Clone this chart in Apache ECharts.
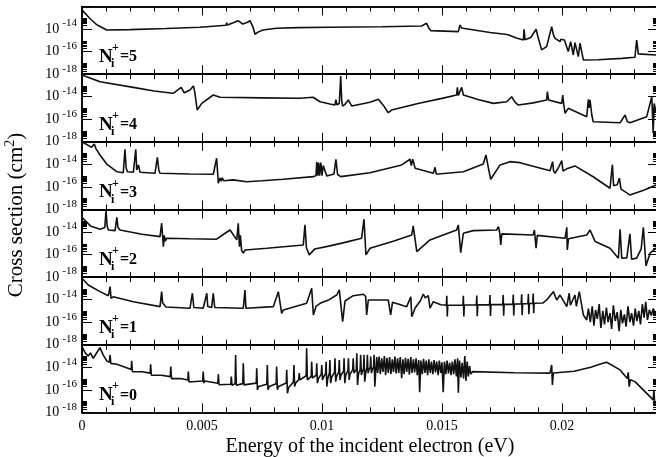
<!DOCTYPE html>
<html>
<head>
<meta charset="utf-8">
<script src="https://cdn.jsdelivr.net/npm/echarts@6/dist/echarts.min.js"></script>
<style>
html, body { margin: 0; padding: 0; background: #fff; }
#main { width: 656px; height: 457px; }
</style>
</head>
<body>
<div id="main"></div>
<script>
// [energy (eV), log10 of cross section (cm^2)] for each N_i^+ panel
var n5 = [[0, -12.3], [0.0003, -13.0], [0.0006, -13.6], [0.00103, -14.08], [0.002, -14.05], [0.0035, -13.95],
    [0.00492, -13.84], [0.006, -13.66], [0.00603, -13.43], [0.00606, -13.65], [0.0063, -13.45], [0.0065, -13.26],
    [0.0067, -13.55], [0.0069, -13.4], [0.007, -13.26], [0.00712, -13.8], [0.00721, -14.46], [0.00735, -14.25],
    [0.00754, -14.08], [0.0081, -13.93], [0.009, -13.87], [0.01033, -13.84], [0.0125, -13.8], [0.01415, -13.73],
    [0.01436, -13.49], [0.01445, -13.9], [0.01453, -14.14], [0.01568, -14.23], [0.01575, -13.64], [0.01581, -13.9],
    [0.017, -14.3], [0.01763, -14.46], [0.0177, -14.3], [0.01775, -14.5], [0.0181, -14.8], [0.01839, -14.97],
    [0.01842, -14.02], [0.01846, -14.95], [0.0187, -14.75], [0.01892, -14.02], [0.019, -14.7], [0.01915, -15.85],
    [0.01936, -15.56], [0.01957, -13.79], [0.01964, -14.5], [0.01971, -14.82], [0.01992, -15.12], [0.01995, -14.9],
    [0.0201, -14.97], [0.02026, -16.0], [0.02036, -15.12], [0.02047, -16.3], [0.02054, -15.2], [0.02068, -16.45],
    [0.02075, -15.26], [0.02089, -16.74], [0.0215, -16.72], [0.0225, -16.6], [0.02304, -16.5], [0.02311, -14.97],
    [0.02318, -16.2], [0.02325, -16.3], [0.02392, -16.3], [0.024, -16.3]];

var n4 = [[0, -12.08], [0.00075, -12.67], [0.00214, -13.17], [0.003, -13.5], [0.0038, -13.7], [0.00413, -13.17],
    [0.00426, -13.65], [0.0045, -13.4], [0.00464, -13.05], [0.0047, -13.6], [0.0048, -15.18], [0.00499, -14.59],
    [0.00547, -13.85], [0.00575, -14.05], [0.0075, -14.1], [0.00908, -14.14], [0.00963, -14.05], [0.00992, -14.45],
    [0.01033, -14.65], [0.01054, -14.74], [0.01058, -14.25], [0.01062, -14.72], [0.01072, -14.6], [0.01078, -12.17],
    [0.01082, -14.3], [0.01086, -14.83], [0.01095, -14.7], [0.0111, -14.29], [0.01124, -14.83], [0.012, -14.5],
    [0.01235, -14.23], [0.0126, -14.9], [0.01276, -15.42], [0.0129, -15.18], [0.014, -14.6], [0.015, -14.15],
    [0.01561, -13.85], [0.01564, -13.17], [0.01568, -13.9], [0.01575, -13.8], [0.01582, -13.17], [0.01589, -13.85],
    [0.0165, -14.25], [0.01714, -14.59], [0.0177, -14.45], [0.0179, -14.0], [0.01805, -14.5], [0.01818, -14.74],
    [0.0188, -14.55], [0.01936, -14.29], [0.01939, -13.56], [0.01944, -14.29], [0.01999, -14.59], [0.02003, -13.85],
    [0.02008, -14.8], [0.02013, -15.47], [0.02026, -15.03], [0.02103, -15.77], [0.0211, -14.23], [0.02113, -15.0],
    [0.02117, -14.29], [0.02124, -15.6], [0.0213, -16.22], [0.02242, -16.31], [0.02263, -15.62], [0.02272, -16.2],
    [0.02283, -16.31], [0.02353, -15.77], [0.02374, -14.0], [0.02377, -15.5], [0.0238, -17.25], [0.02384, -14.6],
    [0.02392, -15.36], [0.024, -15.3]];

var n3 = [[0, -12.0], [0.0004, -12.49], [0.00051, -12.19], [0.00058, -12.6], [0.00075, -13.17], [0.00103, -13.97],
    [0.00145, -14.65], [0.00172, -14.74], [0.00179, -12.66], [0.00184, -14.3], [0.00189, -14.65], [0.00214, -14.7],
    [0.00224, -12.66], [0.00228, -14.5], [0.0023, -14.6], [0.00235, -14.05], [0.00242, -14.7], [0.00304, -14.79],
    [0.00314, -13.37], [0.0032, -14.5], [0.00325, -14.79], [0.0045, -14.85], [0.00547, -14.88], [0.00561, -13.46],
    [0.00568, -15.68], [0.00575, -15.2], [0.0058, -15.5], [0.00585, -15.2], [0.0059, -15.45], [0.0063, -15.38],
    [0.00686, -15.54], [0.0075, -15.45], [0.00839, -15.32], [0.00964, -15.09], [0.00975, -15.0], [0.00978, -13.8],
    [0.00982, -15.0], [0.00986, -13.85], [0.0099, -15.0], [0.00995, -13.85], [0.01, -15.0], [0.01005, -14.1],
    [0.0102, -15.03], [0.0105, -14.85], [0.01058, -13.55], [0.01065, -14.9], [0.01078, -15.09], [0.012, -14.74],
    [0.01332, -14.05], [0.01367, -13.55], [0.01372, -14.1], [0.01378, -13.55], [0.01388, -14.35], [0.01464, -14.79],
    [0.01471, -14.26], [0.01476, -14.85], [0.01485, -14.85], [0.01589, -14.65], [0.01672, -13.97], [0.01683, -13.17],
    [0.01695, -14.5], [0.01703, -15.32], [0.01742, -14.05], [0.01783, -13.76], [0.01825, -13.85], [0.0195, -14.56],
    [0.01961, -13.76], [0.01965, -14.6], [0.01971, -14.79], [0.01985, -14.3], [0.01999, -13.67], [0.02004, -14.59],
    [0.0202, -14.4], [0.02054, -14.14], [0.0213, -15.1], [0.022, -16.12], [0.0221, -14.05], [0.02215, -15.9],
    [0.0223, -15.8], [0.02239, -15.23], [0.02246, -16.2], [0.02283, -16.71], [0.0234, -16.3], [0.02392, -15.83],
    [0.024, -15.78]];

var n2 = [[0, -12.69], [0.00035, -13.46], [0.00075, -13.75], [0.00095, -13.6], [0.001, -12.1], [0.00105, -13.5],
    [0.0011, -13.82], [0.00138, -13.88], [0.00145, -12.69], [0.0015, -13.6], [0.00158, -13.82], [0.0025, -14.2],
    [0.00325, -14.41], [0.00332, -13.22], [0.00339, -15.3], [0.00343, -14.3], [0.00347, -14.8], [0.00353, -14.55],
    [0.0045, -14.6], [0.00561, -14.64], [0.0059, -14.2], [0.00617, -13.82], [0.00645, -14.7], [0.00651, -13.22],
    [0.00656, -15.3], [0.0066, -14.3], [0.00665, -15.6], [0.00672, -15.88], [0.0068, -15.6], [0.0077, -15.44],
    [0.00922, -15.15], [0.00929, -13.37], [0.00935, -15.4], [0.00947, -16.03], [0.0097, -15.5], [0.01033, -15.23],
    [0.011, -14.9], [0.01165, -14.55], [0.01175, -12.87], [0.01183, -16.03], [0.012, -15.44], [0.013, -14.8],
    [0.01374, -14.26], [0.0138, -13.46], [0.01395, -15.74], [0.0145, -14.7], [0.01505, -14.26], [0.01561, -13.82],
    [0.01568, -13.37], [0.01578, -15.83], [0.01589, -14.11], [0.0163, -13.88], [0.01728, -13.82], [0.01735, -13.52],
    [0.0174, -14.0], [0.01745, -15.15], [0.01749, -14.17], [0.0188, -14.26], [0.01885, -13.82], [0.01892, -15.44],
    [0.01897, -14.3], [0.02013, -14.55], [0.0202, -13.58], [0.02022, -15.59], [0.02027, -14.6], [0.02103, -14.26],
    [0.02117, -13.82], [0.02138, -14.85], [0.022, -15.44], [0.02235, -16.32], [0.02242, -13.75], [0.02249, -16.32],
    [0.0227, -16.3], [0.02283, -14.17], [0.0229, -16.41], [0.02311, -16.32], [0.0233, -15.5], [0.02339, -13.58],
    [0.0235, -17.0], [0.02367, -15.88], [0.02392, -15.44], [0.024, -15.4]];

var n1 = [[0, -12.1], [0.00026, -12.7], [0.00075, -13.29], [0.0011, -13.65], [0.00117, -12.85], [0.00121, -13.88],
    [0.0013, -13.75], [0.00214, -14.18], [0.00325, -14.62], [0.00332, -13.29], [0.00336, -14.3], [0.00339, -14.47],
    [0.0035, -14.65], [0.0045, -14.76], [0.0046, -13.43], [0.00466, -14.7], [0.00505, -14.76], [0.0052, -13.43],
    [0.00524, -14.6], [0.00526, -14.76], [0.0054, -14.7], [0.00547, -13.43], [0.00553, -14.7], [0.00561, -14.76],
    [0.00672, -14.76], [0.00679, -13.14], [0.00683, -14.76], [0.00797, -14.62], [0.00818, -13.29], [0.00832, -15.21],
    [0.00839, -14.91], [0.00936, -14.32], [0.00957, -12.99], [0.00964, -15.36], [0.00975, -14.6], [0.00992, -14.32],
    [0.0103, -14.0], [0.01061, -13.59], [0.01072, -13.14], [0.01086, -15.95], [0.01096, -14.12], [0.0113, -13.65],
    [0.01172, -13.52], [0.01182, -13.7], [0.01186, -15.36], [0.01193, -14.03], [0.01276, -14.03], [0.01286, -15.36],
    [0.01294, -14.23], [0.01353, -14.62], [0.0137, -13.74], [0.01374, -15.51], [0.01388, -14.74], [0.0141, -14.1],
    [0.01422, -13.5], [0.0143, -13.85], [0.01443, -13.65], [0.0145, -14.76], [0.01464, -14.18], [0.01495, -14.45],
    [0.01518, -14.5], [0.0152, -13.65], [0.01522, -15.5], [0.01524, -14.5],
    [0.01587, -14.48], [0.01589, -13.65], [0.01591, -15.5], [0.01593, -14.48],
    [0.01643, -14.46], [0.01645, -13.63], [0.01647, -15.48], [0.01649, -14.46],
    [0.01698, -14.44], [0.017, -13.6], [0.01702, -15.45], [0.01704, -14.44],
    [0.01753, -14.42], [0.01755, -13.58], [0.01757, -15.42], [0.01759, -14.42],
    [0.01795, -14.4], [0.01797, -13.55], [0.01799, -15.4], [0.01801, -14.4],
    [0.0183, -14.37], [0.01832, -13.52], [0.01834, -15.37], [0.01836, -14.37],
    [0.01858, -14.34], [0.0186, -13.5], [0.01862, -15.3], [0.01864, -14.34],
    [0.01878, -14.32], [0.0188, -13.45], [0.01882, -15.2], [0.01884, -14.32],
    [0.0192, -14.3], [0.01936, -14.03], [0.01964, -13.29], [0.01978, -14.03], [0.01992, -13.59], [0.0202, -14.62],
    [0.0203, -13.43], [0.02035, -14.5], [0.02054, -13.59], [0.0206, -14.6], [0.02072, -13.29], [0.02089, -15.36],
    [0.02103, -15.8], [0.0211, -14.8], [0.02118, -16.0], [0.02126, -14.6], [0.02133, -16.3], [0.0214, -14.9],
    [0.02147, -15.7], [0.02155, -14.4], [0.02162, -16.5], [0.0217, -15.0], [0.02177, -16.2], [0.02185, -14.7],
    [0.02192, -16.0], [0.022, -15.2], [0.02207, -16.6], [0.02214, -14.5], [0.02222, -15.9], [0.0223, -15.1],
    [0.02238, -16.8], [0.02245, -14.9], [0.02252, -16.1], [0.0226, -15.3], [0.02267, -16.4], [0.02275, -14.6],
    [0.02283, -16.0], [0.0229, -15.2], [0.02298, -16.3], [0.02305, -14.8], [0.02312, -15.9], [0.0232, -15.0],
    [0.02327, -16.2], [0.02335, -14.4], [0.02342, -15.6], [0.02349, -14.2], [0.02356, -15.8], [0.02364, -14.9],
    [0.02372, -15.4], [0.0238, -14.8], [0.0239, -15.3], [0.024, -15.0]];

var n0 = [[0, -12.17], [0.00014, -12.75], [0.00026, -12.99], [0.00035, -12.73], [0.00047, -13.2], [0.0006, -12.75],
    [0.00075, -12.26], [0.00088, -12.9], [0.00103, -13.43], [0.00114, -13.55], [0.00117, -12.9], [0.0012, -13.65],
    [0.00145, -13.73], [0.0018, -14.0], [0.00205, -14.2], [0.00207, -13.43], [0.0021, -14.4], [0.00213, -14.25],
    [0.0025, -14.4], [0.00284, -14.52], [0.00286, -13.73], [0.00289, -14.7], [0.00292, -14.55],
    [0.0033, -14.7], [0.00368, -14.83], [0.0037, -13.94], [0.00373, -15.0], [0.00376, -14.85],
    [0.0041, -15.0], [0.00441, -15.12], [0.00443, -14.38], [0.00446, -15.3], [0.00449, -15.13],
    [0.00503, -15.21], [0.00505, -14.38], [0.00508, -15.4], [0.00511, -15.22],
    [0.00566, -15.41], [0.00568, -14.61], [0.00571, -15.55], [0.00574, -15.42],
    [0.0062, -15.5], [0.00622, -14.83], [0.00625, -15.6], [0.00628, -15.5],
    [0.00638, -15.45], [0.0064, -12.9], [0.00643, -15.6], [0.00648, -15.5],
    [0.0067, -15.45], [0.00672, -13.64], [0.00675, -15.56], [0.0068, -15.5],
    [0.00726, -15.4], [0.00728, -14.08], [0.00731, -16.0], [0.00736, -15.7],
    [0.0077, -15.5], [0.00772, -13.79], [0.00775, -16.0], [0.0078, -15.7],
    [0.00809, -15.45], [0.00811, -13.94], [0.00814, -16.0], [0.00819, -15.7],
    [0.00851, -15.4], [0.00853, -14.23], [0.00856, -16.3], [0.00861, -15.8],
    [0.00881, -15.3], [0.00883, -13.79], [0.00886, -15.71], [0.0089, -15.4],
    [0.00903, -15.1], [0.00905, -14.52], [0.00908, -15.12], [0.00912, -15.0],
    [0.00934, -14.75], [0.00936, -12.31], [0.00939, -15.12], [0.00943, -15.0],
    [0.00955, -14.8], [0.00957, -13.5], [0.0096, -14.97], [0.00964, -14.9],
    [0.00976, -14.7], [0.00978, -13.64], [0.00981, -15.41], [0.00985, -15.0],
    [0.00997, -14.6], [0.00999, -13.79], [0.01002, -15.12], [0.01006, -14.9],
    [0.01015, -14.55], [0.01017, -13.5], [0.0102, -15.71], [0.01024, -15.0],
    [0.01031, -14.5], [0.01033, -13.35], [0.01036, -15.41], [0.0104, -14.9],
    [0.01052, -14.45], [0.01054, -13.2], [0.01057, -15.27], [0.01061, -14.8],
    [0.0107, -14.4], [0.01072, -13.35], [0.01075, -15.12], [0.01079, -14.7],
    [0.0109, -14.35], [0.01092, -13.2], [0.01095, -15.41], [0.01099, -14.7],
    [0.01108, -14.3], [0.0111, -13.2], [0.01113, -15.12], [0.01117, -14.6],
    [0.01128, -14.2], [0.0113, -13.2], [0.01133, -14.52], [0.01137, -14.4],
    [0.01143, -14.2], [0.01145, -12.75], [0.01148, -15.56], [0.01152, -14.6],
    [0.01159, -14.2], [0.01161, -12.9], [0.01164, -14.68], [0.01168, -14.4],
    [0.01173, -14.1], [0.01175, -12.9], [0.01178, -15.27], [0.01182, -14.5],
    [0.01187, -14.05], [0.01189, -12.9], [0.01192, -14.52], [0.01196, -14.2],
    [0.01201, -14.0], [0.01203, -13.05], [0.01206, -14.52], [0.0121, -14.2],
    [0.01215, -13.95], [0.01217, -12.9], [0.0122, -15.71], [0.01224, -14.3],
    [0.01228, -13.1], [0.01232, -14.5], [0.01238, -13.05], [0.01243, -14.6], [0.01249, -13.2], [0.01254, -14.4],
    [0.0126, -13.0], [0.01265, -14.7], [0.01271, -13.15], [0.01276, -14.5], [0.01282, -13.1], [0.01287, -14.6],
    [0.01293, -13.3], [0.01298, -14.4], [0.01304, -13.05], [0.01309, -14.55], [0.01315, -13.2], [0.0132, -14.5],
    [0.01326, -13.1], [0.01332, -14.97], [0.01337, -13.3], [0.01342, -14.6], [0.01348, -13.15], [0.01353, -14.4],
    [0.01359, -13.25], [0.01364, -14.65], [0.0137, -13.1], [0.01375, -14.5], [0.01381, -13.3], [0.01386, -14.45],
    [0.01392, -13.2], [0.01397, -14.7], [0.01403, -13.35], [0.01407, -16.2], [0.01412, -13.4], [0.01418, -14.6],
    [0.01423, -13.25], [0.01429, -14.5], [0.01434, -13.4], [0.0144, -14.7], [0.01445, -13.3], [0.01451, -14.5],
    [0.01456, -13.5], [0.01462, -14.6], [0.01467, -13.35], [0.01473, -14.45], [0.01478, -13.5], [0.01484, -14.7],
    [0.01489, -13.4], [0.01495, -14.5], [0.015, -13.55], [0.01505, -16.2], [0.0151, -13.5], [0.01516, -14.6],
    [0.01521, -13.4], [0.01527, -14.55], [0.01532, -13.6], [0.01538, -14.7], [0.01543, -13.5], [0.01549, -14.6],
    [0.01554, -13.3], [0.0156, -14.8], [0.01565, -13.2], [0.01568, -16.25], [0.01573, -13.4], [0.01579, -14.9],
    [0.01584, -13.6], [0.0159, -15.0], [0.01595, -13.0], [0.016, -15.2], [0.01605, -13.5], [0.0161, -14.8],
    [0.01615, -13.9], [0.0162, -14.6], [0.01628, -14.38], [0.018, -14.48], [0.0195, -14.52], [0.01957, -13.79],
    [0.0196, -15.56], [0.01964, -14.5], [0.0205, -14.35], [0.0212, -14.0], [0.0216, -13.7], [0.02186, -13.55],
    [0.02242, -14.23], [0.02272, -15.0], [0.02276, -14.44], [0.0228, -15.71], [0.02285, -15.1], [0.02304, -15.27],
    [0.0238, -16.89], [0.02383, -16.0], [0.02386, -17.2], [0.02392, -17.33], [0.024, -17.5]];

var panelNames = ['5', '4', '3', '2', '1', '0'];
var panelData = [n5, n4, n3, n2, n1, n0];

var xMajor = [0, 0.005, 0.01, 0.015, 0.02];
var xMinor = [0.001, 0.002, 0.003, 0.004, 0.006, 0.007, 0.008, 0.009, 0.011, 0.012, 0.013, 0.014,
    0.016, 0.017, 0.018, 0.019, 0.021, 0.022, 0.023];
var yMajor = [-18, -16, -14, -12];
var yLabels = [-18, -16, -14];
var yMinor = [];
yLabels.forEach(function (n) {
    for (var k = 2; k <= 9; k++) yMinor.push(n + Math.log10(k));
});

var serif = 'Liberation Serif';
var top0 = 6.5, panelH = 67.65, gridLeft = 82, gridRight = -2;
var axisLineStyle = {color: '#000', width: 1.5};

function xAx(g, pos, ticks, len, withLabels) {
    var ax = {
        type: 'value', gridIndex: g, position: pos, min: 0, max: 0.024,
        axisLine: {show: true, onZero: false, lineStyle: axisLineStyle},
        axisTick: {show: true, inside: true, length: len, customValues: ticks, lineStyle: {color: '#000', width: 1}},
        axisLabel: {show: withLabels, customValues: xMajor, color: '#000', fontFamily: serif, fontSize: 14, margin: 7},
        splitLine: {show: false}
    };
    if (withLabels) {
        ax.name = 'Energy of the incident electron (eV)';
        ax.nameLocation = 'middle';
        ax.nameGap = 24;
        ax.nameTextStyle = {color: '#000', fontFamily: serif, fontSize: 20};
    }
    return ax;
}

function yAx(g, pos, ticks, len, withLabels) {
    return {
        type: 'value', gridIndex: g, position: pos, min: -18, max: -12,
        axisLine: {show: true, onZero: false, lineStyle: axisLineStyle},
        axisTick: {show: true, inside: true, length: len, customValues: ticks, lineStyle: {color: '#000', width: 1}},
        axisLabel: {
            show: withLabels, customValues: yLabels, margin: 5,
            formatter: function (v) { return '{b|10}{s|' + v + '}'; },
            rich: {
                b: {color: '#000', fontFamily: serif, fontSize: 14, padding: [0, 0, 0, 0]},
                s: {color: '#000', fontFamily: serif, fontSize: 11, padding: [0, 0, 11, 3]}
            }
        },
        splitLine: {show: false}
    };
}

var grids = [], xAxes = [], yAxes = [], series = [], graphics = [];
for (var g = 0; g < 6; g++) {
    var panelTop = top0 + g * panelH;
    grids.push({left: gridLeft, right: gridRight, top: panelTop, height: panelH, outerBoundsMode: 'none', containLabel: false});
    xAxes.push(xAx(g, 'bottom', xMajor, 9, g === 5));
    xAxes.push(xAx(g, 'bottom', xMinor, 5, false));
    xAxes.push(xAx(g, 'top', xMajor, 9, false));
    xAxes.push(xAx(g, 'top', xMinor, 5, false));
    yAxes.push(yAx(g, 'left', yMajor, 10, true));
    yAxes.push(yAx(g, 'left', yMinor, 5, false));
    yAxes.push(yAx(g, 'right', yMajor, 10, false));
    yAxes.push(yAx(g, 'right', yMinor, 5, false));
    series.push({
        type: 'line', xAxisIndex: 4 * g, yAxisIndex: 4 * g, data: panelData[g],
        showSymbol: false, symbol: 'none', silent: true, clip: true,
        lineStyle: {color: '#111', width: 1.6}
    });

    var pb = panelTop + panelH;
    graphics.push({type: 'text', x: 99, y: pb - 17, style: {text: 'N', fontFamily: serif, fontSize: 19, fontWeight: 'bold', fill: '#000', textAlign: 'left', textVerticalAlign: 'middle', align: 'left', verticalAlign: 'middle'}});
    graphics.push({type: 'text', x: 111, y: pb - 10, style: {text: 'i', fontFamily: serif, fontSize: 12, fontWeight: 'bold', fill: '#000', textAlign: 'left', textVerticalAlign: 'middle', align: 'left', verticalAlign: 'middle'}});
    graphics.push({type: 'text', x: 112, y: pb - 26, style: {text: '+', fontFamily: serif, fontSize: 12, fontWeight: 'bold', fill: '#000', textAlign: 'left', textVerticalAlign: 'middle', align: 'left', verticalAlign: 'middle'}});
    graphics.push({type: 'text', x: 120, y: pb - 17, style: {text: '=' + panelNames[g], fontFamily: serif, fontSize: 16, fontWeight: 'bold', fill: '#000', textAlign: 'left', textVerticalAlign: 'middle', align: 'left', verticalAlign: 'middle'}});
}

graphics.push({
    type: 'text', x: 16, y: 215, rotation: Math.PI / 2,
    style: {
        text: 'Cross section (cm{s|2})', fontFamily: serif, fontSize: 21, fill: '#000',
        textAlign: 'center', textVerticalAlign: 'middle', align: 'center', verticalAlign: 'middle',
        rich: {s: {fontFamily: serif, fontSize: 14, fill: '#000', padding: [0, 0, 11, 0]}}
    }
});

var chart = echarts.init(document.getElementById('main'));
chart.setOption({
    animation: false,
    backgroundColor: '#fff',
    grid: grids,
    xAxis: xAxes,
    yAxis: yAxes,
    series: series,
    graphic: graphics
});
</script>
</body>
</html>
